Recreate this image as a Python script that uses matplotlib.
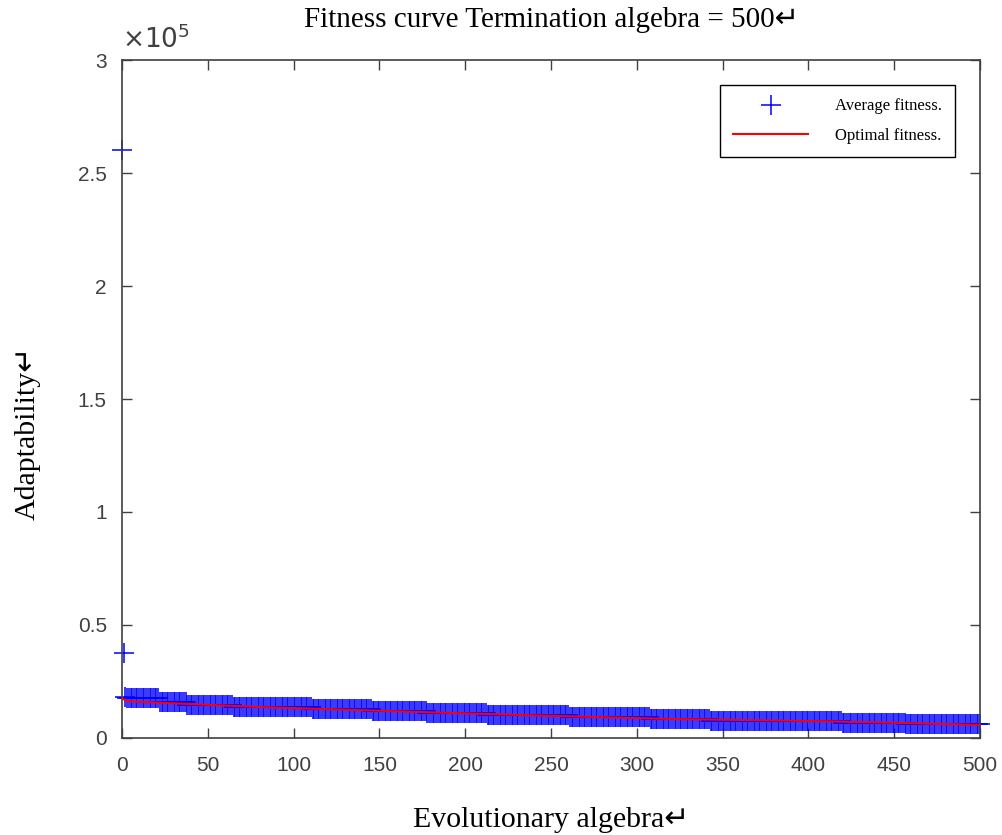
import matplotlib
matplotlib.use("Agg")
import matplotlib.pyplot as plt
import numpy as np
from matplotlib.ticker import FuncFormatter

# first few generations of the average fitness
avg_head = [2.6e5, 3.76e4, 1.8e4]
# average fitness is piecewise flat afterwards: block start gen + value
avg_block_start = [3, 22, 38, 65, 111, 146, 178, 213, 261, 308, 343, 420, 457]
avg_block_value = [1.78e4, 1.57e4, 1.46e4, 1.35e4, 1.28e4, 1.19e4, 1.11e4,
                   1.02e4, 0.93e4, 0.85e4, 0.75e4, 0.66e4, 0.61e4]
last_gen = 500

# optimal fitness curve
opt_gen = [0, 3, 40, 80, 160, 240, 320, 410, 500]
opt_value = [1.75e4, 1.63e4, 1.50e4, 1.37e4, 1.18e4, 1.00e4, 0.84e4, 0.74e4, 0.58e4]

xticks = [0, 50, 100, 150, 200, 250, 300, 350, 400, 450, 500]
yticks = [0, 0.5e5, 1e5, 1.5e5, 2e5, 2.5e5, 3e5]

lengths = np.diff(avg_block_start + [last_gen + 1])
avg = np.concatenate([avg_head, np.repeat(avg_block_value, lengths)])
gens = np.arange(len(avg))

serif = ["Liberation Serif", "DejaVu Sans"]
sans = ["Liberation Sans", "DejaVu Sans"]
grey = "#404040"

fig = plt.figure(figsize=(10.02, 8.35), dpi=100)
ax = fig.add_axes([0.1218, 0.1162, 0.8563, 0.8119])

ax.plot(gens, avg, linestyle="none", marker="+", color="blue",
        markersize=15, markeredgewidth=1.1, label="Average fitness.",
        zorder=2, clip_on=False)
ax.plot(opt_gen, opt_value, color="red", linewidth=1.5,
        label="Optimal fitness.", zorder=3)

ax.set_xlim(0, 500)
ax.set_ylim(0, 3e5)
ax.set_xticks(xticks)
ax.set_yticks(yticks)
ax.yaxis.set_major_formatter(FuncFormatter(lambda v, p: "%g" % (v / 1e5)))
ax.tick_params(direction="in", length=7, width=1, colors=grey,
               top=True, right=True, labelsize=15)
ax.tick_params(axis="x", pad=13)
ax.tick_params(axis="y", pad=11)
for lab in ax.get_xticklabels() + ax.get_yticklabels():
    lab.set_family(sans)
for s in ax.spines.values():
    s.set_color(grey)
    s.set_linewidth(1.2)

ax.text(0.0, 1.01, r"$\times10^{5}$", transform=ax.transAxes, fontsize=19,
        color=grey, ha="left", va="bottom", family=sans)

ax.set_title("Fitness curve Termination algebra = 500\u21b5", family=serif,
             fontsize=21, pad=24)
ax.set_xlabel("Evolutionary algebra\u21b5", family=serif, fontsize=21.5,
              labelpad=23)
ax.set_ylabel("Adaptability\u21b5", family=serif, fontsize=21.5)
ax.yaxis.set_label_coords(-0.095, 0.45)

leg = ax.legend(loc="upper right", bbox_to_anchor=(0.971, 0.963),
                borderaxespad=0, prop={"family": serif, "size": 12},
                handlelength=4.5, handletextpad=1.6, fancybox=False,
                edgecolor="black", framealpha=1, borderpad=0.8,
                labelspacing=0.8)
leg.get_frame().set_linewidth(1)

fig.savefig("out.png", dpi=100)
